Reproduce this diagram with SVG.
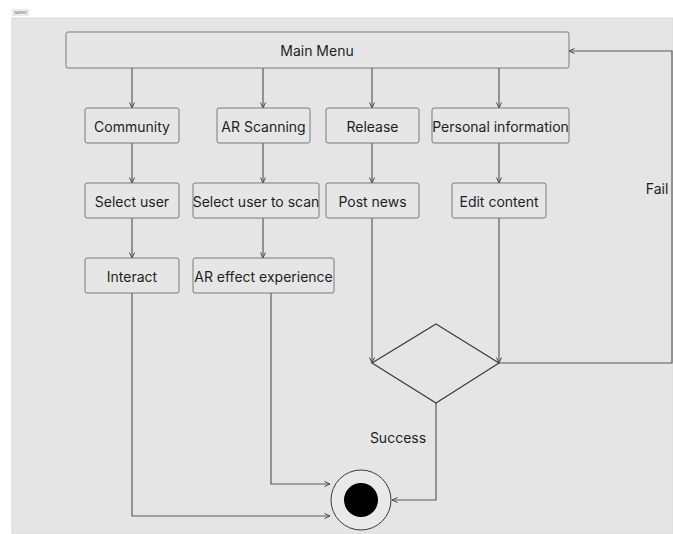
<svg xmlns="http://www.w3.org/2000/svg" width="673" height="534" viewBox="0 0 673 534">
  <style>
    .box { fill: #e6e6e6; stroke: #7a7a7a; stroke-width: 1; }
    .lbl { font-family: Inter, "Liberation Sans", sans-serif; font-size: 14px; fill: #1e1e1e; text-anchor: middle; dominant-baseline: central; }
    .edge { fill: none; stroke: #5a5a5a; stroke-width: 1.2; marker-end: url(#arrow); }
    .line { fill: none; stroke: #5a5a5a; stroke-width: 1.2; }
  </style>
  <defs>
    <marker id="arrow" viewBox="0 0 8 8" refX="7.5" refY="4" markerWidth="8" markerHeight="8" markerUnits="userSpaceOnUse" orient="auto">
      <path d="M2,1.5 L7.5,4 L2,6.5" fill="none" stroke="#4a4a4a" stroke-width="1"/>
    </marker>
  </defs>

  <!-- page and frame -->
  <rect x="0" y="0" width="673" height="534" fill="#ffffff"/>
  <rect x="12" y="18" width="661" height="516" fill="#e5e5e5" stroke="#dadada" stroke-width="1"/>
  <g id="frame-title">
    <rect x="12" y="9" width="17" height="7" fill="#ececec"/>
    <text x="20.5" y="12.5" font-family="Inter, 'Liberation Sans', sans-serif" font-size="4" fill="#666" text-anchor="middle" dominant-baseline="central">Name1</text>
  </g>

  <!-- connectors -->
  <g id="connectors">
    <path class="edge" d="M132,68 V108"/>
    <path class="edge" d="M263,68 V108"/>
    <path class="edge" d="M372,68 V108"/>
    <path class="edge" d="M499,68 V108"/>
    <path class="edge" d="M132,143 V183"/>
    <path class="edge" d="M263,143 V183"/>
    <path class="edge" d="M372,143 V183"/>
    <path class="edge" d="M499,143 V183"/>
    <path class="edge" d="M132,218 V258"/>
    <path class="edge" d="M263,218 V258"/>
    <path class="edge" d="M372,218 V363"/>
    <path class="edge" d="M499,218 V363"/>
    <path class="edge" d="M499,363 H672 V51 H569"/>
    <path class="edge" d="M436,403 V500 H392"/>
    <path class="edge" d="M271,293 V484 H330"/>
    <path class="edge" d="M132,293 V516 H330"/>
    <text class="lbl" x="657" y="188">Fail</text>
    <text class="lbl" x="398" y="437">Success</text>
  </g>

  <!-- nodes -->
  <g id="main-menu">
    <rect class="box" x="66" y="32" width="503" height="36" rx="2"/>
    <text class="lbl" x="317" y="50">Main Menu</text>
  </g>
  <g id="community">
    <rect class="box" x="85" y="108" width="94" height="35" rx="2"/>
    <text class="lbl" x="132" y="126">Community</text>
  </g>
  <g id="ar-scanning">
    <rect class="box" x="217" y="108" width="93" height="35" rx="2"/>
    <text class="lbl" x="263.5" y="126">AR Scanning</text>
  </g>
  <g id="release">
    <rect class="box" x="326" y="108" width="93" height="35" rx="2"/>
    <text class="lbl" x="372.5" y="126">Release</text>
  </g>
  <g id="personal-information">
    <rect class="box" x="432" y="108" width="137" height="35" rx="2"/>
    <text class="lbl" x="500.5" y="126">Personal information</text>
  </g>
  <g id="select-user">
    <rect class="box" x="85" y="183" width="94" height="35" rx="2"/>
    <text class="lbl" x="132" y="201">Select user</text>
  </g>
  <g id="select-user-to-scan">
    <rect class="box" x="193" y="183" width="126" height="35" rx="2"/>
    <text class="lbl" x="256" y="201">Select user to scan</text>
  </g>
  <g id="post-news">
    <rect class="box" x="326" y="183" width="93" height="35" rx="2"/>
    <text class="lbl" x="372.5" y="201">Post news</text>
  </g>
  <g id="edit-content">
    <rect class="box" x="452" y="183" width="94" height="35" rx="2"/>
    <text class="lbl" x="499" y="201">Edit content</text>
  </g>
  <g id="interact">
    <rect class="box" x="85" y="258" width="94" height="35" rx="2"/>
    <text class="lbl" x="132" y="276">Interact</text>
  </g>
  <g id="ar-effect-experience">
    <rect class="box" x="193" y="258" width="141" height="35" rx="2"/>
    <text class="lbl" x="263.5" y="276">AR effect experience</text>
  </g>
  <g id="decision">
    <polygon points="436,324 499,363 436,403 372,363" fill="#e5e5e5" stroke="#3a3a3a" stroke-width="1.2"/>
  </g>
  <g id="end">
    <circle cx="361" cy="500" r="30" fill="#e9e9e9" stroke="#3a3a3a" stroke-width="1"/>
    <circle cx="361" cy="500" r="17" fill="#000000"/>
  </g>
</svg>
